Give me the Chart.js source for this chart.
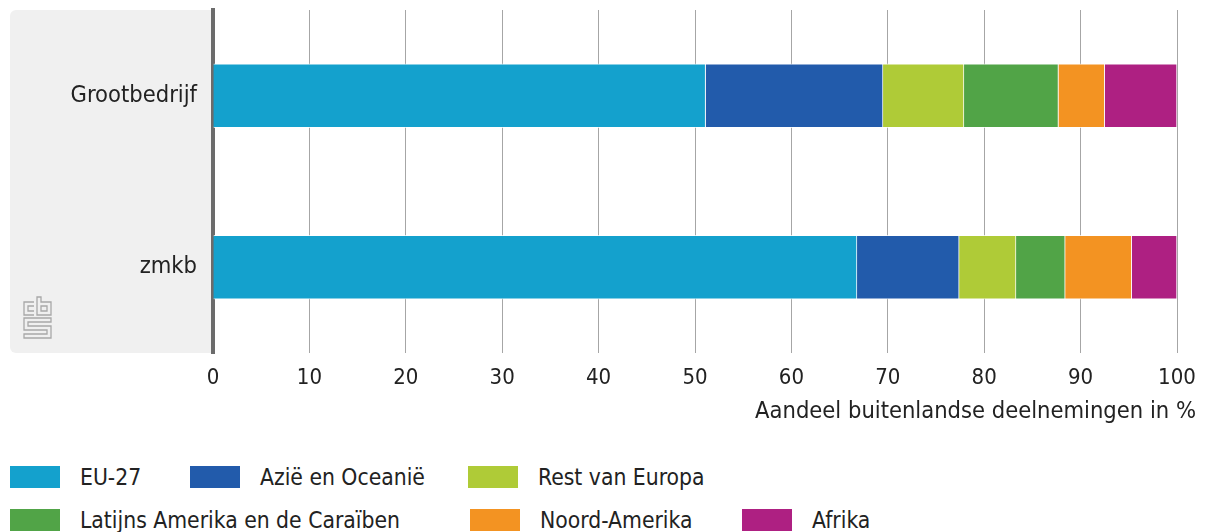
<!DOCTYPE html>
<html>
<head>
<meta charset="utf-8">
<script src="https://cdn.jsdelivr.net/npm/chart.js@4/dist/chart.umd.min.js"></script>
<style>
  body { margin: 0; background: #fff; font-family: 'DejaVu Sans Condensed', 'DejaVu Sans', sans-serif; color: #222; }
  #wrap { position: relative; width: 1208px; height: 440px; }
  #legend { width: 1208px; font-size: 22.7px; padding-top: 15px; }
  .row { display: grid; height: 43px; align-items: center; }
  .row1 { grid-template-columns: 180px 278px auto; }
  .row2 { grid-template-columns: 460px 272px auto; }
  .item { display: flex; align-items: center; padding-left: 10px; }
  .sw { width: 50px; height: 22px; margin-right: 20px; }
</style>
</head>
<body>
<div id="wrap"><canvas id="grafiek"></canvas></div>
<div id="legend"></div>
<script>
// categorieën en reeksen (aandeel in %)
const categorieen = ["Grootbedrijf", "zmkb"];
const reeksNamen = ["EU-27", "Azië en Oceanië", "Rest van Europa", "Latijns Amerika en de Caraïben", "Noord-Amerika", "Afrika"];
const eu27 = [51.1, 66.8];
const azie = [18.4, 10.6];
const restEuropa = [8.4, 5.9];
const latijnsAmerika = [9.8, 5.1];
const noordAmerika = [4.8, 6.9];
const afrika = [7.5, 4.7];
const xTicks = [0, 10, 20, 30, 40, 50, 60, 70, 80, 90, 100];
const asTitel = "Aandeel buitenlandse deelnemingen in %";

const kleuren = ["#14a1cd", "#225bab", "#afcb37", "#51a447", "#f39322", "#ae2082"];
const reeksen = [eu27, azie, restEuropa, latijnsAmerika, noordAmerika, afrika];
const FONT = "'DejaVu Sans Condensed', 'DejaVu Sans', sans-serif";

// grijs vlak achter de categorie-labels + cbs logo
const achtergrond = {
  id: "achtergrond",
  beforeDraw(chart) {
    const { ctx, chartArea } = chart;
    const x0 = 10, y0 = chartArea.top, w = chartArea.left - x0, h = chartArea.bottom - chartArea.top;
    ctx.save();
    ctx.fillStyle = "#f0f0f0";
    ctx.beginPath();
    ctx.roundRect(x0, y0, w, h, [6, 0, 0, 6]);
    ctx.fill();
    // logo
    ctx.strokeStyle = "#a8a8a8";
    ctx.lineWidth = 1.3;
    const lx = 23, ly = chartArea.bottom - 57;
    ctx.beginPath();
    // c
    ctx.moveTo(lx + 11, ly + 6); ctx.lineTo(lx + 1, ly + 6); ctx.lineTo(lx + 1, ly + 19); ctx.lineTo(lx + 11, ly + 19);
    ctx.moveTo(lx + 11, ly + 10); ctx.lineTo(lx + 5, ly + 10); ctx.lineTo(lx + 5, ly + 15); ctx.lineTo(lx + 11, ly + 15);
    // b
    ctx.moveTo(lx + 14, ly + 1); ctx.lineTo(lx + 14, ly + 19); ctx.lineTo(lx + 28, ly + 19); ctx.lineTo(lx + 28, ly + 6); ctx.lineTo(lx + 18, ly + 6); ctx.lineTo(lx + 18, ly + 1); ctx.closePath();
    ctx.rect(lx + 18, ly + 10, 6, 5);
    // s
    ctx.moveTo(lx + 28, ly + 22); ctx.lineTo(lx + 1, ly + 22); ctx.lineTo(lx + 1, ly + 34); ctx.lineTo(lx + 24, ly + 34);
    ctx.lineTo(lx + 24, ly + 38); ctx.lineTo(lx + 1, ly + 38); ctx.lineTo(lx + 1, ly + 42); ctx.lineTo(lx + 28, ly + 42);
    ctx.lineTo(lx + 28, ly + 30); ctx.lineTo(lx + 5, ly + 30); ctx.lineTo(lx + 5, ly + 26); ctx.lineTo(lx + 28, ly + 26); ctx.closePath();
    ctx.stroke();
    ctx.restore();
  },
  afterDraw(chart) {
    const { ctx } = chart;
    const x = chart.scales.x;
    ctx.save();
    ctx.font = "23.5px " + FONT;
    ctx.fillStyle = "#222";
    ctx.textAlign = "right";
    ctx.textBaseline = "middle";
    ctx.fillText(asTitel, x.right + 19, 412);
    ctx.restore();
  }
};

const chart = new Chart(document.getElementById("grafiek"), {
  type: "bar",
  data: {
    labels: categorieen,
    datasets: reeksen.map((d, i) => ({
      label: reeksNamen[i],
      data: d,
      backgroundColor: kleuren[i],
      borderColor: "rgba(255,255,255,0.75)",
      borderWidth: 1,
      barThickness: 64
    }))
  },
  options: {
    indexAxis: "y",
    responsive: true,
    maintainAspectRatio: false,
    animation: false,
    layout: { padding: { top: 10, right: 31, left: 10, bottom: 0 } },
    plugins: { legend: { display: false }, tooltip: { enabled: false } },
    scales: {
      x: {
        stacked: true,
        min: 0,
        max: 100,
        afterBuildTicks: (s) => { s.ticks = xTicks.map(v => ({ value: v })); },
        afterFit: (s) => { s.height = 87; },
        grid: { color: "#a6a6a6", lineWidth: 1, drawTicks: false },
        border: { display: false },
        ticks: { color: "#222", font: { family: FONT, size: 22 }, padding: 12 }
      },
      y: {
        stacked: true,
        afterFit: (s) => { s.width = 203; s.paddingTop = 0; s.paddingBottom = 0; },
        grid: { display: false },
        border: { display: true, color: "#6b6b6b", width: 4 },
        ticks: { color: "#222", font: { family: FONT, size: 23.5 }, padding: 8 }
      }
    }
  },
  plugins: [achtergrond]
});

// legenda in twee rijen
const legenda = document.getElementById("legend");
[[0, 1, 2], [3, 4, 5]].forEach((rij, r) => {
  const div = document.createElement("div");
  div.className = "row row" + (r + 1);
  rij.forEach(i => {
    const item = document.createElement("div");
    item.className = "item";
    item.innerHTML = '<span class="sw" style="background:' + kleuren[i] + '"></span><span>' + reeksNamen[i] + '</span>';
    div.appendChild(item);
  });
  legenda.appendChild(div);
});
</script>
</body>
</html>
